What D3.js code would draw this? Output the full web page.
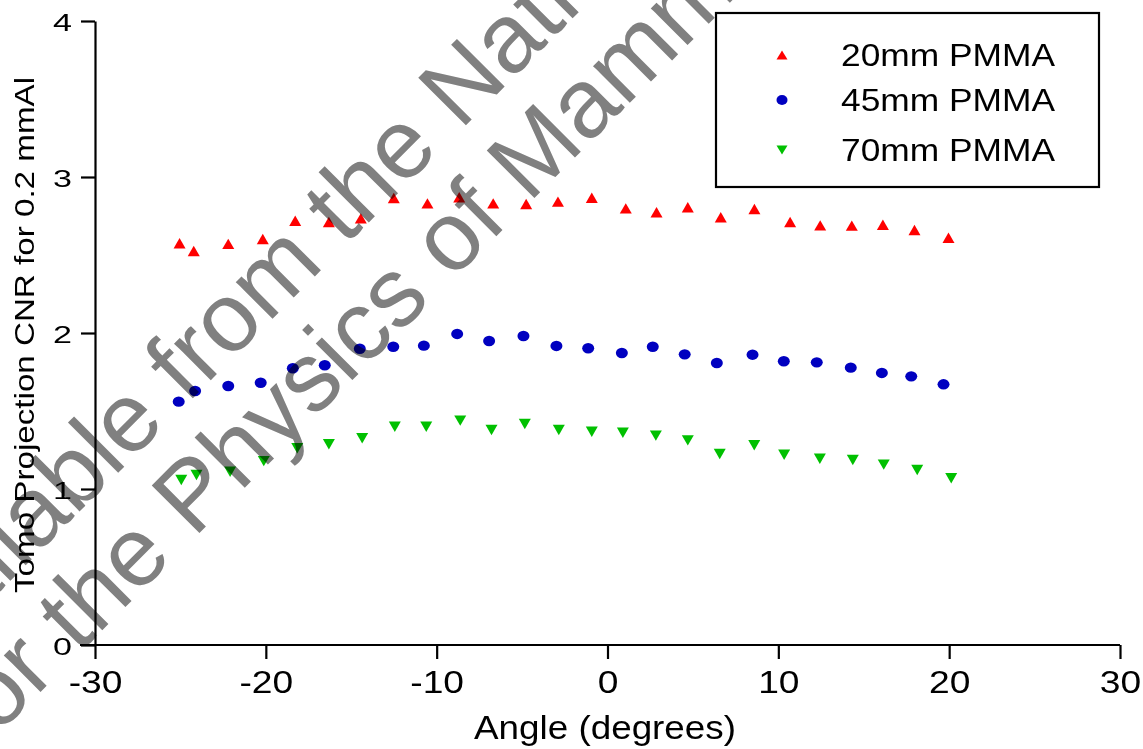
<!DOCTYPE html>
<html>
<head>
  <meta charset="utf-8">
  <script src="https://d3js.org/d3.v7.min.js"></script>
  <style>
  body { margin: 0; background: #fff; }
  svg { display: block; }
  text { font-family: "Liberation Sans", Arial, sans-serif; }
  .watermark { mix-blend-mode: multiply; }
  </style>
</head>
<body>
<svg id="chart" width="1143" height="749"></svg>
<script>
// data
var angles20 = [-25.05, -24.22, -22.20, -20.18, -18.28, -16.31, -14.44, -12.51, -10.54, -8.68, -6.69, -4.76, -2.90, -0.92, 1.07, 2.87, 4.70, 6.63, 8.60, 10.69, 12.45, 14.30, 16.12, 17.97, 19.96];
var cnr20 = [2.575, 2.526, 2.571, 2.603, 2.720, 2.712, 2.735, 2.865, 2.831, 2.870, 2.831, 2.827, 2.842, 2.867, 2.799, 2.774, 2.806, 2.742, 2.795, 2.712, 2.690, 2.688, 2.694, 2.660, 2.611];

var angles45 = [-25.10, -24.14, -22.20, -20.30, -18.42, -16.55, -14.50, -12.54, -10.75, -8.80, -6.93, -4.92, -2.99, -1.13, 0.84, 2.65, 4.52, 6.40, 8.49, 10.32, 12.25, 14.24, 16.06, 17.78, 19.67];
var cnr45 = [1.560, 1.628, 1.660, 1.681, 1.774, 1.793, 1.899, 1.912, 1.919, 1.994, 1.949, 1.981, 1.917, 1.902, 1.872, 1.912, 1.863, 1.808, 1.861, 1.819, 1.812, 1.778, 1.744, 1.722, 1.671];

var angles70 = [-24.95, -24.06, -22.09, -20.12, -18.16, -16.31, -14.36, -12.45, -10.61, -8.62, -6.79, -4.84, -2.85, -0.92, 0.90, 2.83, 4.70, 6.57, 8.59, 10.34, 12.43, 14.36, 16.17, 18.13, 20.12];
var cnr70 = [1.058, 1.090, 1.111, 1.179, 1.261, 1.287, 1.325, 1.399, 1.399, 1.438, 1.378, 1.417, 1.378, 1.367, 1.361, 1.342, 1.312, 1.224, 1.280, 1.220, 1.194, 1.186, 1.156, 1.122, 1.069];

var seriesNames = ["20mm PMMA", "45mm PMMA", "70mm PMMA"];
var seriesColors = ["#ff0000", "#0000c0", "#00c000"];
var seriesShapes = ["up", "circle", "down"];
var xTicks = [-30, -20, -10, 0, 10, 20, 30];
var yTicks = [0, 1, 2, 3, 4];

var series = [
  {name: seriesNames[0], color: seriesColors[0], shape: seriesShapes[0], xs: angles20, ys: cnr20},
  {name: seriesNames[1], color: seriesColors[1], shape: seriesShapes[1], xs: angles45, ys: cnr45},
  {name: seriesNames[2], color: seriesColors[2], shape: seriesShapes[2], xs: angles70, ys: cnr70}
];

var svg = d3.select("#chart");

var x = d3.scaleLinear().domain([-30, 30]).range([95, 1120]);
var y = d3.scaleLinear().domain([0, 4]).range([645, 21]);

// marker paths, centred on their bounding box
function marker(shape, w, h) {
  if (shape == "up") return "M0," + (-h / 2) + "L" + (w / 2) + "," + (h / 2) + "L" + (-w / 2) + "," + (h / 2) + "Z";
  if (shape == "down") return "M0," + (h / 2) + "L" + (w / 2) + "," + (-h / 2) + "L" + (-w / 2) + "," + (-h / 2) + "Z";
  return null;
}

// axes (plain hyphen minus, like the original)
var fmt = function(d) { return String(d); };
var xAxis = svg.append("g")
  .attr("transform", "translate(0,645)")
  .call(d3.axisBottom(x).tickValues(xTicks).tickSize(14).tickSizeOuter(0).tickFormat(fmt));
var yAxis = svg.append("g")
  .attr("transform", "translate(95,0)")
  .call(d3.axisLeft(y).tickValues(yTicks).tickSize(14).tickSizeOuter(0).tickFormat(fmt));

[xAxis, yAxis].forEach(function(g) {
  g.select(".domain").attr("stroke", "#000").attr("stroke-width", 2.2);
  g.selectAll(".tick line").attr("stroke", "#000").attr("stroke-width", 2.2);
});
// x axis line also runs under the left tick of the y axis
xAxis.select(".domain").attr("d", "M80,0H1120");

xAxis.selectAll(".tick text")
  .attr("y", 0).attr("dy", null)
  .attr("transform", "translate(0,48) scale(1.2,1)")
  .attr("font-size", 31).attr("fill", "#000")
  .attr("font-family", "Liberation Sans, Arial, sans-serif");
yAxis.selectAll(".tick text")
  .attr("x", 0).attr("dy", null)
  .attr("transform", "translate(-23,9) scale(1.42,1)")
  .attr("font-size", 24).attr("fill", "#000")
  .attr("font-family", "Liberation Sans, Arial, sans-serif");

// axis titles
svg.append("text")
  .attr("x", 605).attr("y", 739)
  .attr("text-anchor", "middle")
  .attr("font-size", 34)
  .attr("textLength", 262).attr("lengthAdjust", "spacingAndGlyphs")
  .text("Angle (degrees)");

svg.append("text")
  .attr("transform", "translate(34,335) rotate(-90)")
  .attr("text-anchor", "middle")
  .attr("font-size", 28)
  .attr("textLength", 516).attr("lengthAdjust", "spacingAndGlyphs")
  .text("Tomo Projection CNR for 0.2 mmAl");

// points
series.forEach(function(s) {
  var pts = s.xs.map(function(v, i) { return [v, s.ys[i]]; });
  var g = svg.append("g").attr("fill", s.color);
  if (s.shape == "circle") {
    g.selectAll("ellipse").data(pts).enter().append("ellipse")
      .attr("cx", function(d) { return x(d[0]); })
      .attr("cy", function(d) { return y(d[1]); })
      .attr("rx", 6).attr("ry", 5.2);
  } else {
    g.selectAll("path").data(pts).enter().append("path")
      .attr("transform", function(d) { return "translate(" + x(d[0]) + "," + y(d[1]) + ")"; })
      .attr("d", marker(s.shape, 12, 10.4));
  }
});

// watermark, blended over the plot
var wm = svg.append("g")
  .attr("class", "watermark")
  .attr("transform", "rotate(-45)")
  .attr("fill", "#808080")
  .attr("font-size", 98);
wm.append("text").attr("x", -577).attr("y", 418).text("Available from the National Coordinating Centre");
wm.append("text").attr("x", -549).attr("y", 518).text("for the Physics of Mammography");

// legend sits above the watermark
var legend = svg.append("g");
legend.append("rect")
  .attr("x", 716).attr("y", 13).attr("width", 383).attr("height", 174)
  .attr("fill", "#fff").attr("stroke", "#000").attr("stroke-width", 2.2);
var legendY = [55, 100, 150];
series.forEach(function(s, i) {
  if (s.shape == "circle") {
    legend.append("ellipse").attr("cx", 782).attr("cy", legendY[i]).attr("rx", 5.5).attr("ry", 5).attr("fill", s.color);
  } else {
    legend.append("path")
      .attr("transform", "translate(782," + legendY[i] + ")")
      .attr("d", marker(s.shape, 11, 9)).attr("fill", s.color);
  }
  legend.append("text")
    .attr("x", 841).attr("y", legendY[i] + 11)
    .attr("font-size", 31)
    .attr("textLength", 214).attr("lengthAdjust", "spacingAndGlyphs")
    .text(s.name);
});
</script>
</body>
</html>
